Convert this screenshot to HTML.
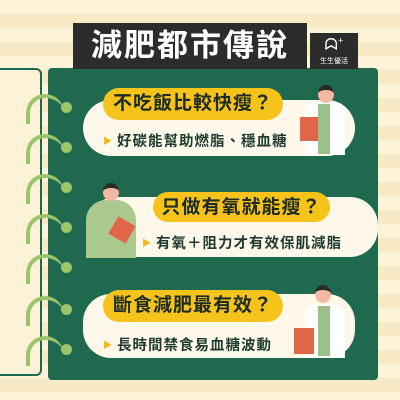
<!DOCTYPE html>
<html><head><meta charset="utf-8"><style>
*{margin:0;padding:0;box-sizing:border-box}
body{width:400px;height:400px;overflow:hidden;position:relative;font-family:"Liberation Sans","Noto Sans CJK TC",sans-serif;
background:repeating-linear-gradient(180deg,#fdf3d9 0 14px,#f9eac6 14px 28px);}
.abs{position:absolute}
.board{left:48px;top:68px;width:330px;height:312px;background:#1f6a4f;border-radius:4px}
.page{left:-4px;top:68px;width:46px;height:308px;border:2px solid #1f6a4f;border-left:none;border-radius:0 6px 6px 0;background:#fcf2d8}
.title{left:73px;top:23px;width:234px;height:46px;background:#2c2c2a;color:#fff;font-size:31px;font-weight:bold;text-align:center;line-height:46px;letter-spacing:2px}
.logo{left:310px;top:33px;width:48px;height:36px;background:#2c2c2a;color:#fff;font-size:7px;text-align:center}
.card{background:#fdf8ea;border-radius:28px}
.pill{background:#f6c31a;border-radius:16px;font-size:19px;font-weight:bold;color:#1d2b25;text-align:center;line-height:32px;letter-spacing:1px}
.sub{font-size:14.5px;font-weight:bold;color:#1f3b30;letter-spacing:1px;white-space:nowrap}
.sub b{color:#f2b814;font-size:9px;margin-right:4px;vertical-align:2px}
.ring{left:26px;width:38px;height:30px;border:4px solid #9cc46a;border-bottom:none;border-right:none;border-radius:20px 20px 0 0}
.ring i{position:absolute;right:-8px;top:4px;width:11px;height:11px;border-radius:50%;background:#9cc46a}
.head{width:16px;height:18px;border-radius:50%;background:#f4b9a0;border-top:5px solid #2a2a2a}
</style></head><body>
<div class="abs page"></div>
<div class="abs board"></div>
<div class="abs title">減肥都市傳說</div>
<div class="abs logo"><div style="font-size:16px;line-height:20px;margin-top:3px">ᗣ⁺</div>生生優活</div>

<div class="abs ring" style="top:94px"><i></i></div>
<div class="abs ring" style="top:134px"><i></i></div>
<div class="abs ring" style="top:174px"><i></i></div>
<div class="abs ring" style="top:214px"><i></i></div>
<div class="abs ring" style="top:254px"><i></i></div>
<div class="abs ring" style="top:296px"><i></i></div>
<div class="abs ring" style="top:336px"><i></i></div>

<div class="abs card" style="left:83px;top:100px;width:272px;height:56px"></div>
<div class="abs pill" style="left:103px;top:88px;width:180px;height:32px">不吃飯比較快瘦？</div>
<div class="abs sub" style="left:103px;top:130px"><b>▶</b>好碳能幫助燃脂、穩血糖</div>
<div class="abs" style="left:305px;top:102px;width:40px;height:53px;background:#fff;border-radius:10px 10px 0 0"></div>
<div class="abs" style="left:318px;top:104px;width:12px;height:50px;background:#9cc08a"></div>
<div class="abs head" style="left:318px;top:85px"></div>
<div class="abs" style="left:300px;top:117px;width:18px;height:24px;background:#e0664a"></div>

<div class="abs card" style="left:88px;top:197px;width:290px;height:60px"></div>
<div class="abs" style="left:86px;top:200px;width:50px;height:58px;background:#a9c98e;border-radius:20px 20px 0 0"></div>
<div class="abs head" style="left:103px;top:183px"></div>
<div class="abs" style="left:112px;top:220px;width:20px;height:20px;background:#e0664a;transform:rotate(30deg)"></div>
<div class="abs pill" style="left:153px;top:192px;width:177px;height:30px">只做有氧就能瘦？</div>
<div class="abs sub" style="left:142px;top:232px"><b>▶</b>有氧＋阻力才有效保肌減脂</div>

<div class="abs card" style="left:83px;top:294px;width:272px;height:64px"></div>
<div class="abs pill" style="left:103px;top:290px;width:180px;height:32px">斷食減肥最有效？</div>
<div class="abs sub" style="left:103px;top:334px"><b>▶</b>長時間禁食易血糖波動</div>
<div class="abs" style="left:305px;top:304px;width:40px;height:54px;background:#fff;border-radius:12px 12px 0 0"></div>
<div class="abs" style="left:318px;top:306px;width:12px;height:50px;background:#9cc08a"></div>
<div class="abs head" style="left:315px;top:285px"></div>
<div class="abs" style="left:294px;top:328px;width:20px;height:26px;background:#e0664a"></div>
</body></html>
